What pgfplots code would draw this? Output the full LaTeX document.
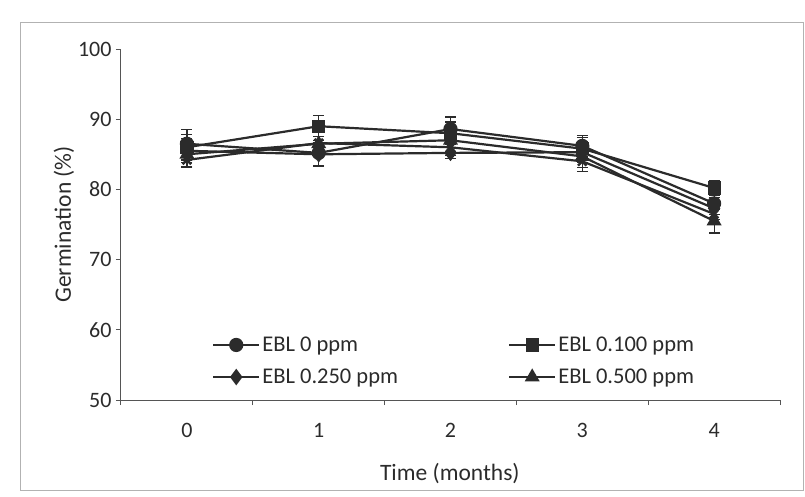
\documentclass[border=0pt]{standalone}
\usepackage{fontspec}
\setmainfont{Carlito}
\usepackage{pgfplots}
\pgfplotsset{compat=1.18}
\definecolor{ink}{HTML}{2B2B2B}
\definecolor{axc}{HTML}{555555}

\begin{document}
\begin{tikzpicture}
\begin{axis}[
  at={(0pt,0pt)}, anchor=south west,
  scale only axis, width=659pt, height=351pt,
  xmin=-0.5, xmax=4.5, ymin=50, ymax=100,
  axis x line*=bottom, axis y line*=left,
  axis line style={draw=axc, line width=1pt},
  tick style={draw=axc, line width=1pt},
  tick align=outside, major tick length=5pt,
  xtick={-0.5,0.5,...,4.5}, xticklabels={},
  extra x ticks={0,1,2,3,4}, extra x tick labels={0,1,2,3,4},
  extra x tick style={major tick length=0pt, tick label style={yshift=-20pt}},
  ytick={50,60,...,100},
  /pgf/number format/assume math mode=true,
  tick label style={font=\fontsize{22}{26}\selectfont, text=ink},
  yticklabel style={xshift=-1pt},
  xlabel={Time (months)}, ylabel={Germination (\%)},
  label style={font=\fontsize{23.5}{28}\selectfont, text=ink},
  xlabel style={at={(axis description cs:0.499,-0.21)}, anchor=center},
  ylabel style={at={(axis description cs:-0.0865,0.5)}, anchor=center},
  clip=false,
  error bars/y dir=both, error bars/y explicit,
  error bars/error bar style={line width=1.2pt, draw=ink, solid},
  error bars/error mark options={rotate=90, mark size=5.5pt, line width=1.2pt, draw=ink},
  legend columns=2,
  legend cell align=left,
  legend image code/.code={
    \draw[#1, mark repeat=2, mark phase=2] plot coordinates {(0pt,0pt) (23pt,0pt) (46pt,0pt)};
  },
  legend style={at={(rel axis cs:0.138,0.186)}, anchor=north west,
    draw=none, fill=none, inner sep=0pt, row sep=12pt,
    font=\fontsize{22.5}{27}\selectfont, text=ink,
    nodes={inner sep=2pt},
    /tikz/column 2/.style={column sep=108pt}},
]
\addplot[draw=ink, line width=2.2pt, mark=*, mark size=6pt, mark options={solid, draw=ink, fill=ink}]
  coordinates {(0,86.5) +- (0,2.0) (1,85.2) +- (0,1.8) (2,88.6) +- (0,1.7) (3,86.2) +- (0,1.5) (4,78.0) +- (0,1.6)};
\addlegendentry{EBL 0 ppm}
\addplot[draw=ink, line width=2.2pt, mark=square*, mark size=5.5pt, mark options={solid, draw=ink, fill=ink}]
  coordinates {(0,86.0) +- (0,1.8) (1,89.0) +- (0,1.5) (2,88.0) +- (0,1.6) (3,85.8) +- (0,1.6) (4,80.2) +- (0,1.0)};
\addlegendentry{EBL 0.100 ppm}
\addplot[draw=ink, line width=2.2pt, mark=diamond*, mark size=6.5pt, mark options={solid, draw=ink, fill=ink}]
  coordinates {(0,85.5) +- (0,1.7) (1,85.0) +- (0,1.7) (2,85.2) +- (0,0.8) (3,85.3) +- (0,1.5) (4,77.3) +- (0,1.6)};
\addlegendentry{EBL 0.250 ppm}
\addplot[draw=ink, line width=2.2pt, mark=triangle*, mark size=6.5pt, mark options={solid, draw=ink, fill=ink}]
  coordinates {(0,85.0) +- (0,1.7) (1,86.5) +- (0,1.6) (2,87.0) +- (0,1.6) (3,84.7) +- (0,1.6) (4,75.5) +- (0,1.7)};
\addlegendentry{EBL 0.500 ppm}
\addplot[draw=ink, line width=2.2pt, mark=x, mark size=6pt, mark options={solid, draw=ink, line width=2.5pt}, forget plot]
  coordinates {(0,84.2) +- (0,1.0) (1,86.6) +- (0,1.5) (2,86.0) +- (0,1.2) (3,84.0) +- (0,1.5) (4,76.5) +- (0,1.5)};
\end{axis}
\draw[gray!60, line width=0.8pt] (-101pt,-90pt) rectangle (682pt,378pt);
\pgfresetboundingbox
\useasboundingbox (-121pt,-96pt) rectangle (684pt,400pt);
\end{tikzpicture}
\end{document}
